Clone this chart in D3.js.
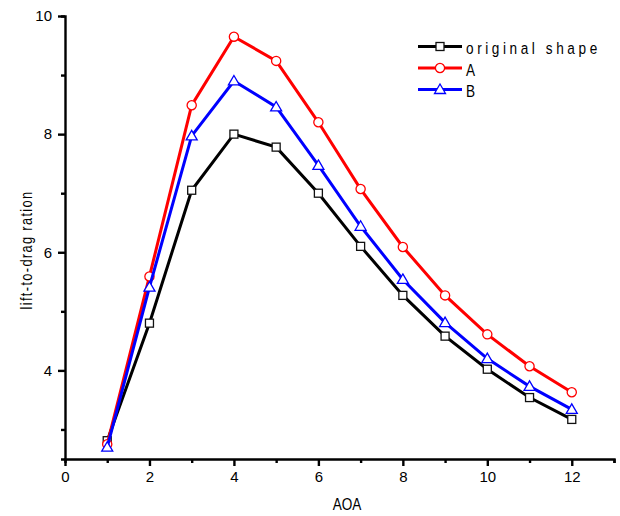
<!DOCTYPE html>
<html lang="en">
<head>
    <meta charset="UTF-8">
    <title>Lift-to-drag ratio vs AOA</title>
    <style>
        body { margin: 0; background: #ffffff; }
        svg { display: block; }
        text { font-family: "Liberation Sans", Arial, sans-serif; fill: #000; }
    </style>
    <script src="https://d3js.org/d3.v7.min.js"></script>
</head>
<body>
    <svg width="620" height="516"></svg>
    <script>
        // data
        const aoa = [1, 2, 3, 4, 5, 6, 7, 8, 9, 10, 11, 12];
        const original = [2.81, 4.80, 7.05, 8.00, 7.78, 7.00, 6.10, 5.27, 4.58, 4.02, 3.54, 3.17];
        const shapeA = [2.75, 5.59, 8.49, 9.65, 9.24, 8.20, 7.07, 6.09, 5.27, 4.61, 4.07, 3.63];
        const shapeB = [2.70, 5.41, 7.97, 8.90, 8.46, 7.47, 6.44, 5.54, 4.81, 4.20, 3.73, 3.34];
        const seriesNames = ["original shape", "A", "B"];
        const xTicks = [0, 2, 4, 6, 8, 10, 12];
        const yTicks = [4, 6, 8, 10];

        const svg = d3.select("svg");

        const x = d3.scaleLinear().domain([0, 13]).range([65, 614]);
        const y = d3.scaleLinear().domain([2.5, 10]).range([459, 16]);

        // axes
        const xAxis = svg.append("g").attr("transform", "translate(0,459)");
        xAxis.call(d3.axisBottom(x).tickValues(xTicks).tickSize(7).tickPadding(5).tickFormat(d3.format("d")));
        xAxis.append("g").call(d3.axisBottom(x).tickValues([1, 3, 5, 7, 9, 11, 13]).tickSize(4).tickFormat(""));

        const yAxis = svg.append("g").attr("transform", "translate(65,0)");
        yAxis.call(d3.axisLeft(y).tickValues(yTicks).tickSize(7).tickPadding(6).tickFormat(d3.format("d")));
        yAxis.append("g").call(d3.axisLeft(y).tickValues([3, 5, 7, 9]).tickSize(4).tickFormat(""));

        svg.selectAll(".domain").attr("stroke", "#000").attr("stroke-width", 2.4);
        svg.selectAll(".tick line").attr("stroke", "#000").attr("stroke-width", 2.4);
        svg.selectAll(".tick text").attr("font-size", 15).attr("font-family", "Liberation Sans, Arial, sans-serif").attr("fill", "#000");
        // minor axis copies have their own domain path; hide them
        xAxis.select("g .domain").remove();
        yAxis.select("g .domain").remove();

        // axis titles (narrow, widely spaced lettering)
        svg.append("text")
            .attr("transform", "translate(347,510) scale(0.8,1)")
            .attr("text-anchor", "middle")
            .attr("font-size", 17)
            .text("AOA");

        svg.append("text")
            .attr("transform", "translate(32,250) rotate(-90) scale(0.8,1)")
            .attr("text-anchor", "middle")
            .attr("font-size", 16)
            .attr("letter-spacing", 1.7)
            .text("lift-to-drag ration");

        const series = [
            { name: seriesNames[0], values: original, color: "#000000", marker: "square", width: 164 },
            { name: seriesNames[1], values: shapeA, color: "#ff0000", marker: "circle", width: null },
            { name: seriesNames[2], values: shapeB, color: "#0000ff", marker: "triangle", width: null }
        ];

        const line = d3.line()
            .x((d, i) => x(aoa[i]))
            .y(d => y(d));

        function drawMarker(g, type, color) {
            if (type === "square") {
                g.append("rect").attr("x", -4).attr("y", -4).attr("width", 8).attr("height", 8)
                    .attr("fill", "#fff").attr("stroke", "#111").attr("stroke-width", 1.3);
            } else if (type === "circle") {
                g.append("circle").attr("r", 4.6)
                    .attr("fill", "#fff").attr("stroke", color).attr("stroke-width", 1.3);
            } else {
                g.append("path").attr("d", "M0,-5.5L5.5,4L-5.5,4Z")
                    .attr("fill", "#fff").attr("stroke", color).attr("stroke-width", 1.3);
            }
        }

        series.forEach(s => {
            svg.append("path")
                .datum(s.values)
                .attr("fill", "none")
                .attr("stroke", s.color)
                .attr("stroke-width", 3)
                .attr("d", line);

            svg.selectAll(null)
                .data(s.values)
                .enter()
                .append("g")
                .attr("transform", (d, i) => `translate(${x(aoa[i])},${y(d)})`)
                .each(function () { drawMarker(d3.select(this), s.marker, s.color); });
        });

        // legend
        const legend = svg.append("g").attr("transform", "translate(418,46.5)");
        series.forEach((s, i) => {
            const row = legend.append("g").attr("transform", `translate(0,${i * 21.5})`);
            row.append("line").attr("x1", 0).attr("x2", 44).attr("y1", 0).attr("y2", 0)
                .attr("stroke", s.color).attr("stroke-width", 3);
            const m = row.append("g").attr("transform", "translate(22,0)");
            drawMarker(m, s.marker, s.color);
            const t = row.append("text")
                .attr("transform", "translate(48,7.5) scale(0.8,1)")
                .attr("font-size", 17)
                .text(s.name);
            if (s.width) t.attr("textLength", s.width).attr("lengthAdjust", "spacing");
        });
    </script>
</body>
</html>
